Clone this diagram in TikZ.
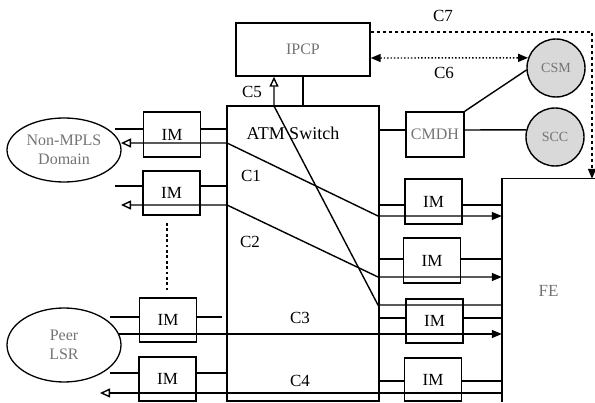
\documentclass[tikz,border=0pt]{standalone}
\usepackage{fontspec}
\setmainfont{Liberation Serif}
\usetikzlibrary{arrows.meta,shapes.geometric}
\begin{document}
\begin{tikzpicture}[x=1pt,y=-1pt,
  box/.style={draw,line width=1.4pt,inner sep=0pt},
  imbox/.style={box,minimum width=57pt,minimum height=45pt,font=\fontsize{17}{19}\selectfont},
  lab/.style={font=\fontsize{17}{19}\selectfont,inner sep=0pt},
  faint/.style={text=black!55,font=\fontsize{16}{19}\selectfont},
  wire/.style={line width=1.4pt},
  oarr/.tip={Triangle[open,length=10pt,width=9pt]},
  farr/.tip={Triangle[length=10pt,width=8pt]},
  ball/.style={circle,draw,line width=1.4pt,fill=black!15,minimum size=58pt,inner sep=0pt,text=black!55,font=\fontsize{14}{16}\selectfont},
  oval/.style={ellipse,draw,line width=1.3pt,inner sep=0pt,align=center,text=black!55,font=\fontsize{16}{19}\selectfont}
]
\useasboundingbox (0,0) rectangle (595,403);
% main blocks
\node[box,minimum width=134pt,minimum height=53pt,faint] (ipcp) at (303,49.5) {IPCP};
\node[box,minimum width=152pt,minimum height=295pt] (sw) at (303,253.5) {};
\node[lab,font=\fontsize{18}{20}\selectfont] (swl) at (293,133) {ATM Switch};
\node[box,minimum width=58pt,minimum height=45pt,faint] (cmdh) at (435,134.5) {CMDH};
\node[minimum width=93pt,minimum height=223pt,inner sep=0pt,faint,font=\fontsize{17}{19}\selectfont] (fe) at (548.5,290.5) {FE};
\draw[line width=1.4pt] (fe.north east) -- (fe.north west) -- (fe.south west);
\node[ball] (csm) at (556,68) {CSM};
\node[ball] (scc) at (555,137) {SCC};
\node[oval,minimum width=114pt,minimum height=64pt] (nm) at (64,150) {Non-MPLS\\Domain};
\node[oval,minimum width=114pt,minimum height=74pt] (pl) at (64,345) {Peer\\LSR};
% IM boxes
\node[imbox] (L1) at (172,134.5) {IM};
\node[imbox,minimum height=44pt] (L2) at (171.5,193) {IM};
\node[imbox,minimum height=44pt] (L3) at (168,320) {IM};
\node[imbox,minimum height=44pt] (L4) at (167.5,379) {IM};
\node[imbox] (R1) at (433.5,201.5) {IM};
\node[imbox] (R2) at (432,260.5) {IM};
\node[imbox,minimum height=44pt] (R3) at (434.5,321) {IM};
\node[imbox,minimum height=43pt] (R4) at (433,379.5) {IM};
% stubs around IM boxes
\coordinate (s1) at (115,129);
\coordinate (s2) at (115,186);
\coordinate (s3) at (110,317);
\coordinate (s4) at (110,373);
\coordinate (s3r) at (222,317);
\draw[wire] (s1) -- (s1 -| L1.west) (L1.east |- s1) -- (s1 -| sw.west);
\draw[wire] (s2) -- (s2 -| L2.west) (L2.east |- s2) -- (s2 -| sw.west);
\draw[wire] (s3) -- (s3 -| L3.west) (L3.east |- s3) -- (s3r);
\draw[wire] (s4) -- (s4 -| L4.west) (L4.east |- s4) -- (s4 -| sw.west);
\coordinate (r1) at (0,205);
\coordinate (r2) at (0,259);
\coordinate (r3) at (0,318);
\coordinate (r4) at (0,381);
\foreach \b/\r in {R1/r1,R2/r2,R3/r3,R4/r4}{
  \draw[wire] (sw.east |- \r) -- (\b.west |- \r) (\b.east |- \r) -- (fe.west |- \r);
}
% ellipsis between left IMs
\coordinate (d1) at (167,223);
\coordinate (d2) at (167,290);
\draw[line width=2.8pt,dash pattern=on 2.8pt off 2.6pt] (d1) -- (d2);
% switch to IPCP
\draw[wire] (ipcp.south) -- (sw.north);
% C1
\coordinate (c1t) at (121,143);
\coordinate (c1l) at (227,143);
\coordinate (c1r) at (378,216);
\draw[wire,oarr-farr] (c1t) -- (c1l) -- (c1r) -- (fe.west |- c1r);
% C2
\coordinate (c2t) at (121,205);
\coordinate (c2l) at (227,205);
\coordinate (c2r) at (378,277);
\draw[wire,oarr-farr] (c2t) -- (c2l) -- (c2r) -- (fe.west |- c2r);
% C3
\coordinate (c3l) at (118,334);
\draw[wire,-farr] (c3l) -- (fe.west |- c3l);
% C4
\coordinate (c4t) at (100,393);
\draw[wire,-oarr] (fe.west |- c4t) -- (c4t);
% C5
\coordinate (c5r) at (378,305);
\coordinate (c5t) at (274,106);
\draw[wire,-oarr] (fe.west |- c5r) -- (c5r) -- (c5t) -- (ipcp.south -| c5t);
% C6
\coordinate (c6) at (0,58);
\draw[wire,dotted,farr-farr] (ipcp.east |- c6) -- (csm.160);
% C7
\coordinate (c7c) at (592,32);
\draw[wire,dashed,-farr] (ipcp.east |- c7c) -- (c7c) -- (c7c |- fe.north);
% CMDH links
\coordinate (k) at (0,130);
\draw[wire] (sw.east |- k) -- (cmdh.west |- k);
\draw[wire] (cmdh.east |- k) -- (scc.166);
\draw[wire] (cmdh.north east) -- (csm.184);
% labels
\node[lab] (l1) at (251,176) {C1};
\node[lab] (l2) at (250,242) {C2};
\node[lab] (l3) at (300,318) {C3};
\node[lab] (l4) at (300,381) {C4};
\node[lab] (l5) at (252,92) {C5};
\node[lab] (l6) at (444,73) {C6};
\node[lab] (l7) at (443,16) {C7};
\end{tikzpicture}
\end{document}
